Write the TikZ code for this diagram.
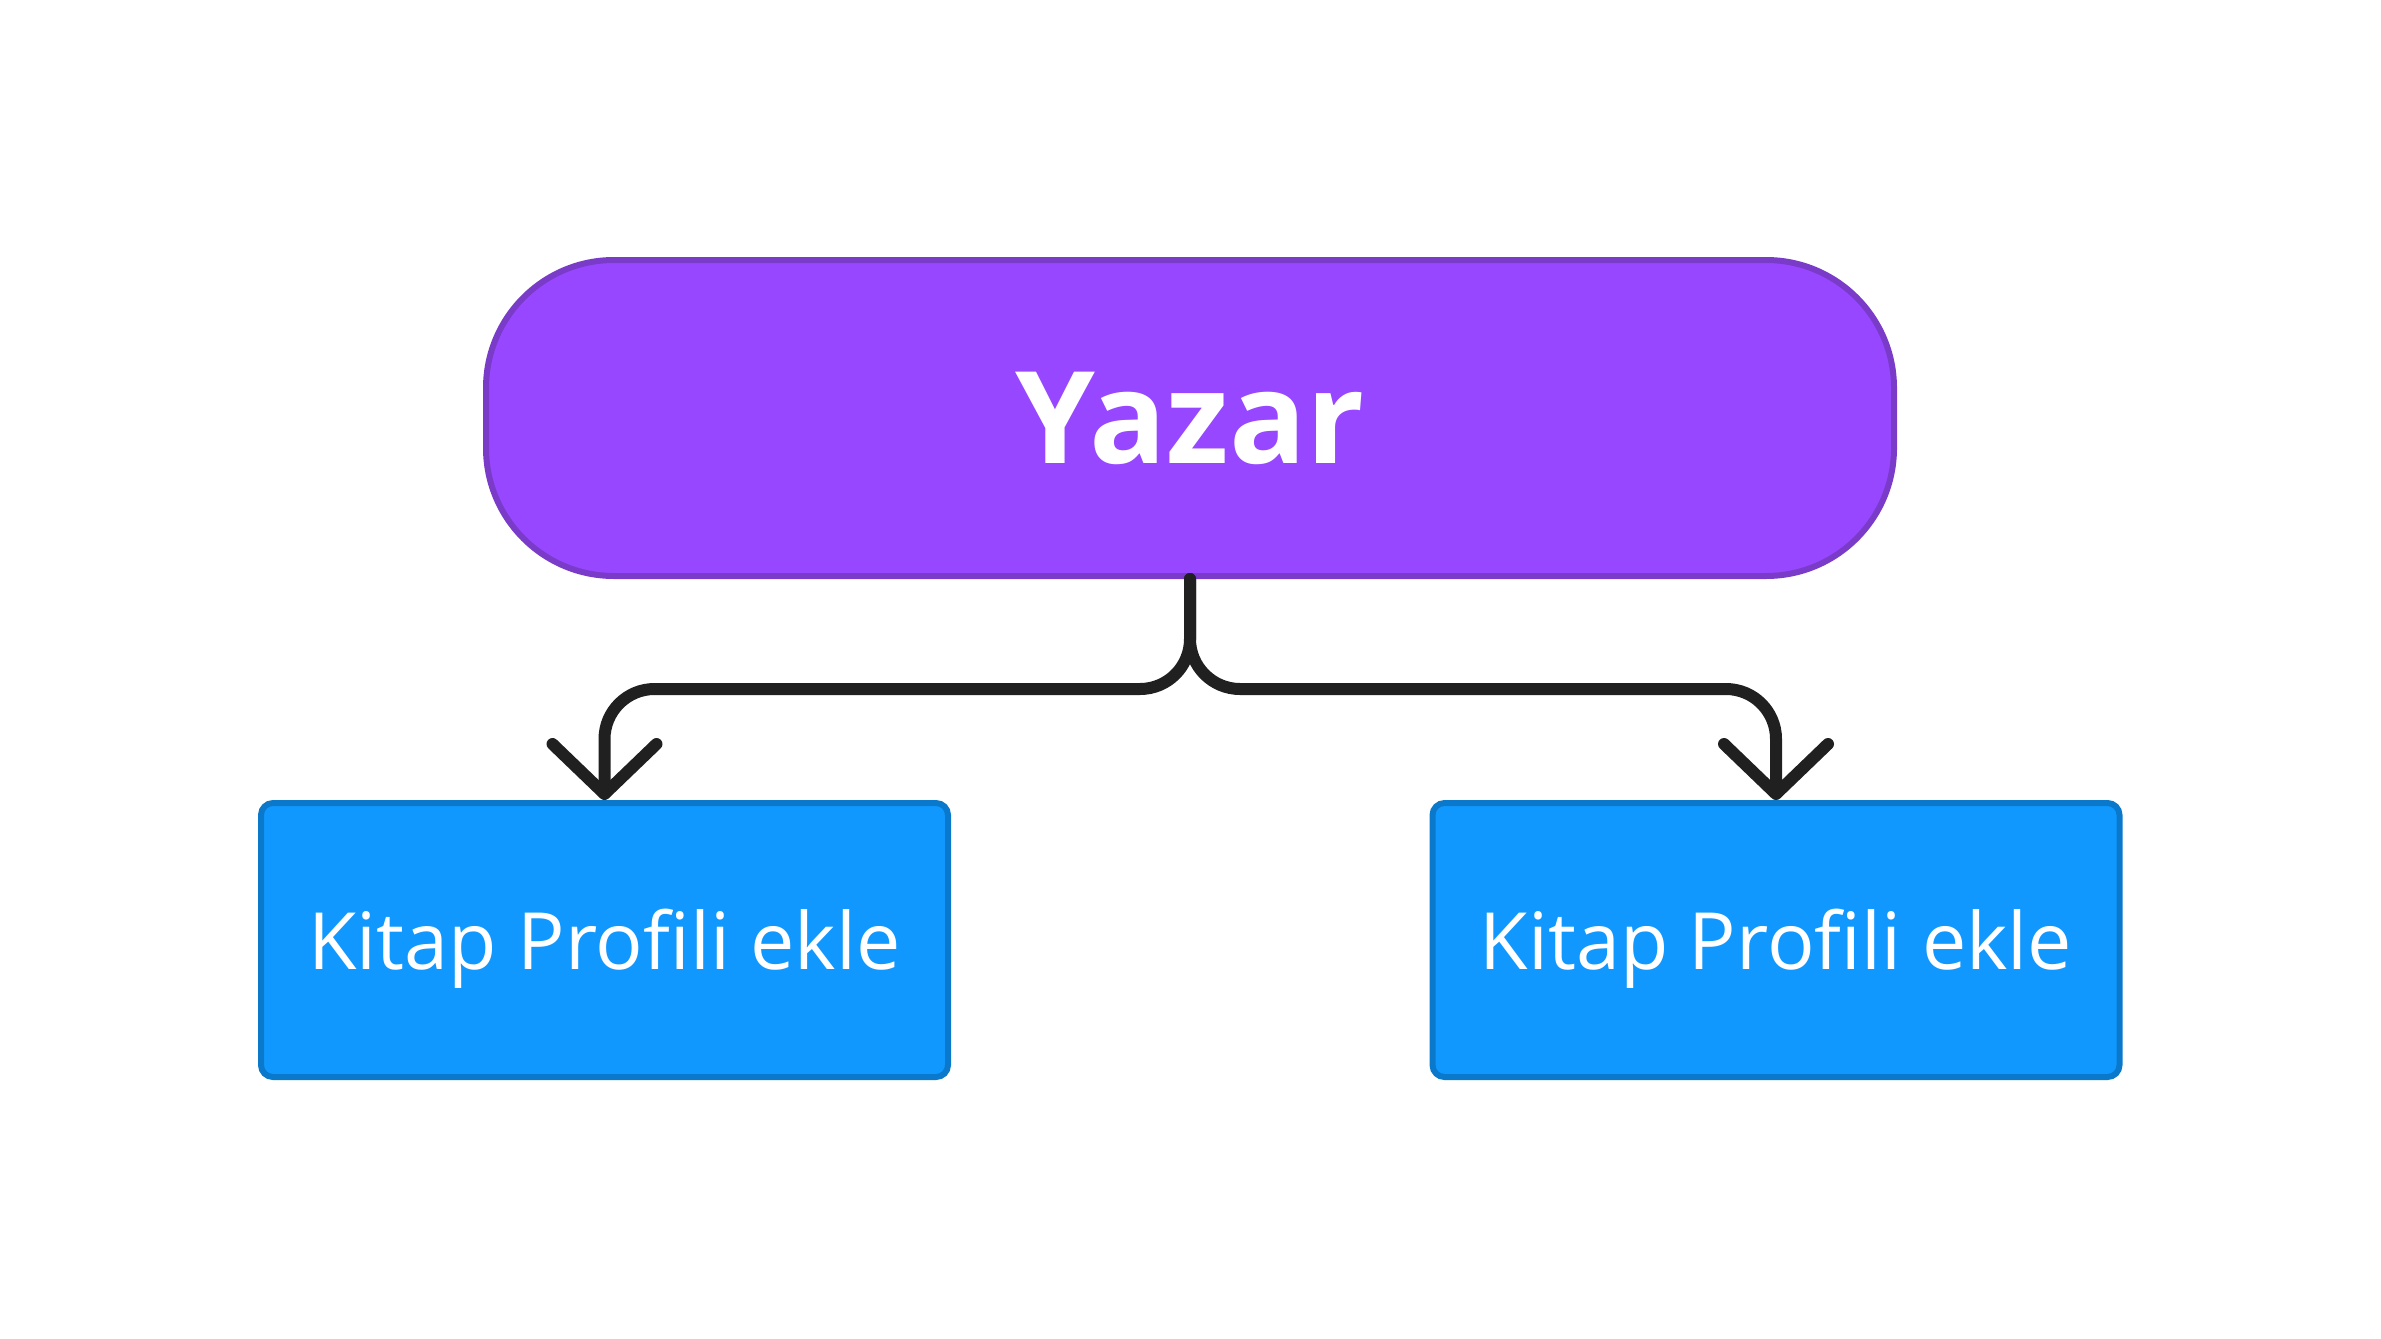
\documentclass[tikz,border=0pt]{standalone}
\usepackage{fontspec}
\setmainfont{Open Sans}
\usetikzlibrary{arrows.meta}
\definecolor{purplefill}{HTML}{9747FF}
\definecolor{purpleline}{HTML}{7A3BC9}
\definecolor{bluefill}{HTML}{1098FF}
\definecolor{blueline}{HTML}{0B79CB}
\definecolor{linkcol}{HTML}{202020}
\tikzset{
  rootbox/.style={draw=purpleline, fill=purplefill, line width=6pt, rounded corners=128pt,
    minimum width=1408pt, minimum height=316pt, inner sep=0pt, text=white,
    font=\fontsize{128}{150}\selectfont\bfseries},
  leafbox/.style={draw=blueline, fill=bluefill, line width=6pt, rounded corners=12pt,
    minimum width=687pt, minimum height=274pt, inner sep=0pt, text=white,
    text height=80pt, text depth=22pt,
    font=\fontsize{79}{95}\selectfont},
  link/.style={draw=linkcol, line width=12pt, rounded corners=50pt, line cap=round, line join=round,
    -{Straight Barb[length=50pt,width=104pt,line cap=round,line join=round]}}
}
\begin{document}
\begin{tikzpicture}[x=1pt,y=-1pt]
\useasboundingbox (0,0) rectangle (2381,1338);
\node[rootbox] (root) at (1190,418) {Yazar};
\node[leafbox] (left) at (604.5,940) {Kitap Profili ekle};
\node[leafbox] (right) at (1776,940) {Kitap Profili ekle};
\draw[link] (root.south) -- ++(0,110) -| (left.north);
\draw[link] (root.south) -- ++(0,110) -| (right.north);
\end{tikzpicture}
\end{document}
